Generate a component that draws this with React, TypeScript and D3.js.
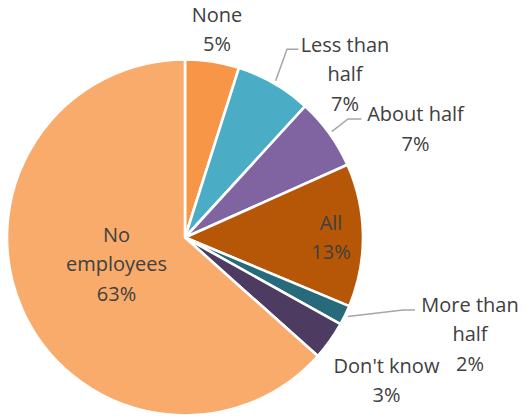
import React from "react";
import * as d3 from "d3";

const categories = ["None", "Less than half", "About half", "All", "More than half", "Don't know", "No employees"];
const values = [4.9, 6.9, 6.5, 13.0, 1.8, 3.5, 63.4];
const pctLabels = ["5%", "7%", "7%", "13%", "2%", "3%", "63%"];
const labelLines = [
  ["None"],
  ["Less than", "half"],
  ["About half"],
  ["All"],
  ["More than", "half"],
  ["Don't know"],
  ["No", "employees"],
];
const colors = ["#F79646", "#4BACC6", "#8064A2", "#B65708", "#276A7B", "#4D3B62", "#F8AB6B"];

// layout (not data)
const W = 523, H = 416;
const CX = 185, CY = 237.5, R = 178;
const LH = 29.5;
const labelLayout = [
  { x: 217, y: 21.5 },
  { x: 345, y: 51.7 },
  { x: 415.5, y: 121 },
  { x: 331, y: 229.5 },
  { x: 470, y: 311.7 },
  { x: 386.5, y: 372.7 },
  { x: 116.5, y: 241.7 },
];
const leaders: ({ elbow: [number, number]; end: [number, number] } | null)[] = [
  null,
  { elbow: [287, 49.3], end: [298.5, 49.3] },
  { elbow: [348, 119], end: [361.5, 119] },
  null,
  { elbow: [403, 310], end: [415, 310] },
  null,
  null,
];

export default function App() {
  const pie = d3.pie<number>().sort(null).value((d) => d).startAngle(0).endAngle(2 * Math.PI);
  const arcs = pie(values);
  const arc = d3.arc<d3.PieArcDatum<number>>().innerRadius(0).outerRadius(R);

  return (
    <svg width={W} height={H} style={{ position: "absolute", left: 0, top: 0, background: "#fff" }}
      fontFamily="'Open Sans', sans-serif" fontSize={20}>
      <g transform={`translate(${CX},${CY})`}>
        {arcs.map((a, i) => (
          <path key={categories[i]} d={arc(a) || ""} fill={colors[i]} stroke="#fff" strokeWidth={2.6} strokeLinejoin="round" />
        ))}
      </g>
      {arcs.map((a, i) => {
        const L = leaders[i];
        if (!L) return null;
        const mid = (a.startAngle + a.endAngle) / 2;
        const sx = CX + (R + 3) * Math.sin(mid);
        const sy = CY - (R + 3) * Math.cos(mid);
        const p = d3.path();
        p.moveTo(sx, sy);
        p.lineTo(L.elbow[0], L.elbow[1]);
        p.lineTo(L.end[0], L.end[1]);
        return <path key={"l" + i} d={p.toString()} fill="none" stroke="#A6A6A6" strokeWidth={1.5} />;
      })}
      {categories.map((c, i) => {
        const lines = [...labelLines[i], pctLabels[i]];
        const pos = labelLayout[i];
        return (
          <text key={"t" + c} textAnchor="middle" fill="#404040">
            {lines.map((ln, j) => (
              <tspan key={j} x={pos.x} y={pos.y + j * LH}>{ln}</tspan>
            ))}
          </text>
        );
      })}
    </svg>
  );
}
